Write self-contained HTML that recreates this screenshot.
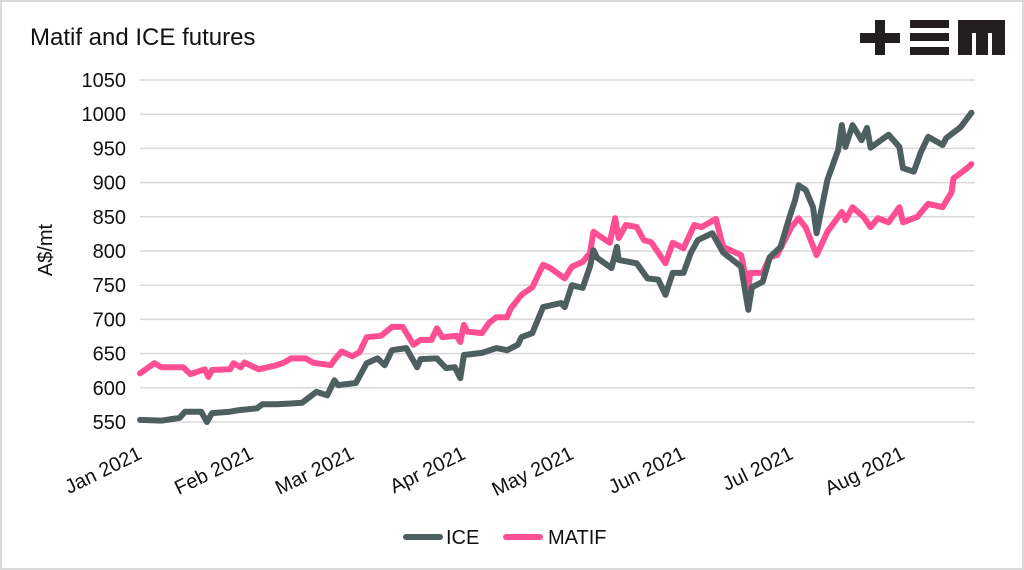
<!DOCTYPE html>
<html><head><meta charset="utf-8"><style>
html,body{margin:0;padding:0;background:#fff;}
svg{display:block;font-family:"Liberation Sans",sans-serif;}
</style></head><body>
<svg id="chart" width="1024" height="570" viewBox="0 0 1024 570">
<rect x="1" y="1" width="1022" height="568" fill="#fff" stroke="#d9d9d9" stroke-width="2"/>
<text x="30" y="45" font-size="24" fill="#111">Matif and ICE futures</text>
<g fill="#231f20">
<rect x="860" y="33" width="40" height="10"/><rect x="875" y="20" width="10" height="35"/>
<rect x="910" y="20" width="39" height="8"/><rect x="910" y="33" width="39" height="8"/><rect x="910" y="47" width="39" height="8"/>
<rect x="958" y="20" width="47" height="13"/><rect x="958" y="20" width="14" height="35"/><rect x="976" y="20" width="12" height="35"/><rect x="992" y="20" width="13" height="35"/>
</g>
<g id="grid"></g>
<g id="yticks"></g>
<g id="xticks"></g>
<text transform="translate(52,250) rotate(-90)" text-anchor="middle" font-size="20" fill="#111">A$/mt</text>
<g id="series"></g>
<g>
<g><line x1="406" y1="537" x2="440" y2="537" stroke="#4d5f5f" stroke-width="6" stroke-linecap="round"/><text x="446" y="544" font-size="20" fill="#111">ICE</text></g>
<g><line x1="506" y1="537" x2="540" y2="537" stroke="#ff4f94" stroke-width="6" stroke-linecap="round"/><text x="548" y="544" font-size="20" fill="#111">MATIF</text></g>
</g>
</svg>
<script>
const yTicks=[550,600,650,700,750,800,850,900,950,1000,1050];
const monthLabels=["Jan 2021","Feb 2021","Mar 2021","Apr 2021","May 2021","Jun 2021","Jul 2021","Aug 2021"];
const monthDays=[0,31,59,90,120,151,181,212];
const iceDays=[0,6,11,12.5,17,18.6,20,25,27,32.5,34,38,42,45,49,52,54,55,60,63,66,68,70,74,77,78,82.5,85,87.5,89,90,95,99,102,105,106,109,112,117,118,120,123,125,126,127,131,132.5,133,138,141,144,146,148,151,153,155,159,162,167,169,170,173,175,178,180.5,182,183,185,187,188,191,194,195,196,198,200.5,202,203,208,211,212,215,217,219,223,224,228,231];
const iceVals=[553,552,556,565,565,550,563,565,567,570,576,576,577,578,594,589,611,604,607,636,643,633,655,658,630,642,643,629,630,614,648,651,658,655,663,674,680,718,724,718,750,746,777,801,790,775,806,787,782,760,758,736,768,768,797,816,826,798,777,714,747,755,791,806,850,874,896,889,864,826,904,948,984,952,984,962,980,951,970,952,921,916,945,967,955,965,981,1002];
const matifDays=[0,4,6,12,14,18,19,20,25,26,28,29,33,38,40,42,46,48,49,53,54,56,59,61,63,67,70,73,76,78,81,82.5,84,88,89,90,91,95,97,99,102,103,106,109,112,114,118,120,123,125,126,130.5,132,133,135,138,140,142,146,148,151,154,156,160,162,167,169,169.5,173,175,177,181,183,185,188,191,195,196,198,201,203,205,208,211,212,216,219,223,225.5,226,230,231];
const matifVals=[621,636,630,630,620,627,616,626,627,636,630,637,627,633,637,643,643,637,636,633,641,653,646,652,674,676,689,689,663,670,670,687,674,676,667,692,682,680,695,703,703,716,736,747,780,775,760,777,784,797,828,812,848,819,838,835,816,813,782,812,804,838,835,847,806,794,743,768,768,791,794,835,848,834,794,828,857,845,864,850,835,848,842,864,842,850,869,864,886,906,922,927];
const NS="http://www.w3.org/2000/svg";
const X0=140,X1=975,D1=232,Y0=422,YMIN=550,YMAX=1050,YTOP=80;
const xs=d=>X0+(X1-X0)*d/D1;
const ys=v=>Y0-(v-YMIN)/(YMAX-YMIN)*(Y0-YTOP);
function mk(tag,attrs,parent){const e=document.createElementNS(NS,tag);for(const k in attrs)e.setAttribute(k,attrs[k]);parent.appendChild(e);return e;}
const grid=document.getElementById('grid'),yt=document.getElementById('yticks'),xt=document.getElementById('xticks'),ser=document.getElementById('series');
yTicks.forEach(v=>{
  const l=mk('line',{x1:X0,x2:X1,y1:ys(v),y2:ys(v),stroke:'#d9d9d9','stroke-width':1.5},grid);
  
  
  const t=mk('text',{x:126,y:ys(v)+7,'text-anchor':'end','font-size':20,fill:'#111'},yt);
  t.textContent=v;
  
  
});
monthDays.forEach((d,i)=>{
  const t=mk('text',{transform:`translate(${xs(d)+3},458) rotate(-26)`,'text-anchor':'end','font-size':20,fill:'#111'},xt);
  t.textContent=monthLabels[i];
  
  
});
function line(days,vals,color,name){
  const d=days.map((dd,i)=>(i?'L':'M')+xs(dd).toFixed(1)+','+ys(vals[i]).toFixed(1)).join('');
  const p=mk('path',{d:d,fill:'none',stroke:color,'stroke-width':6,'stroke-linejoin':'round','stroke-linecap':'round'},ser);
  
  
}
line(matifDays,matifVals,'#ff4f94','matif-line');
line(iceDays,iceVals,'#4d5f5f','ice-line');
</script>
</body></html>
